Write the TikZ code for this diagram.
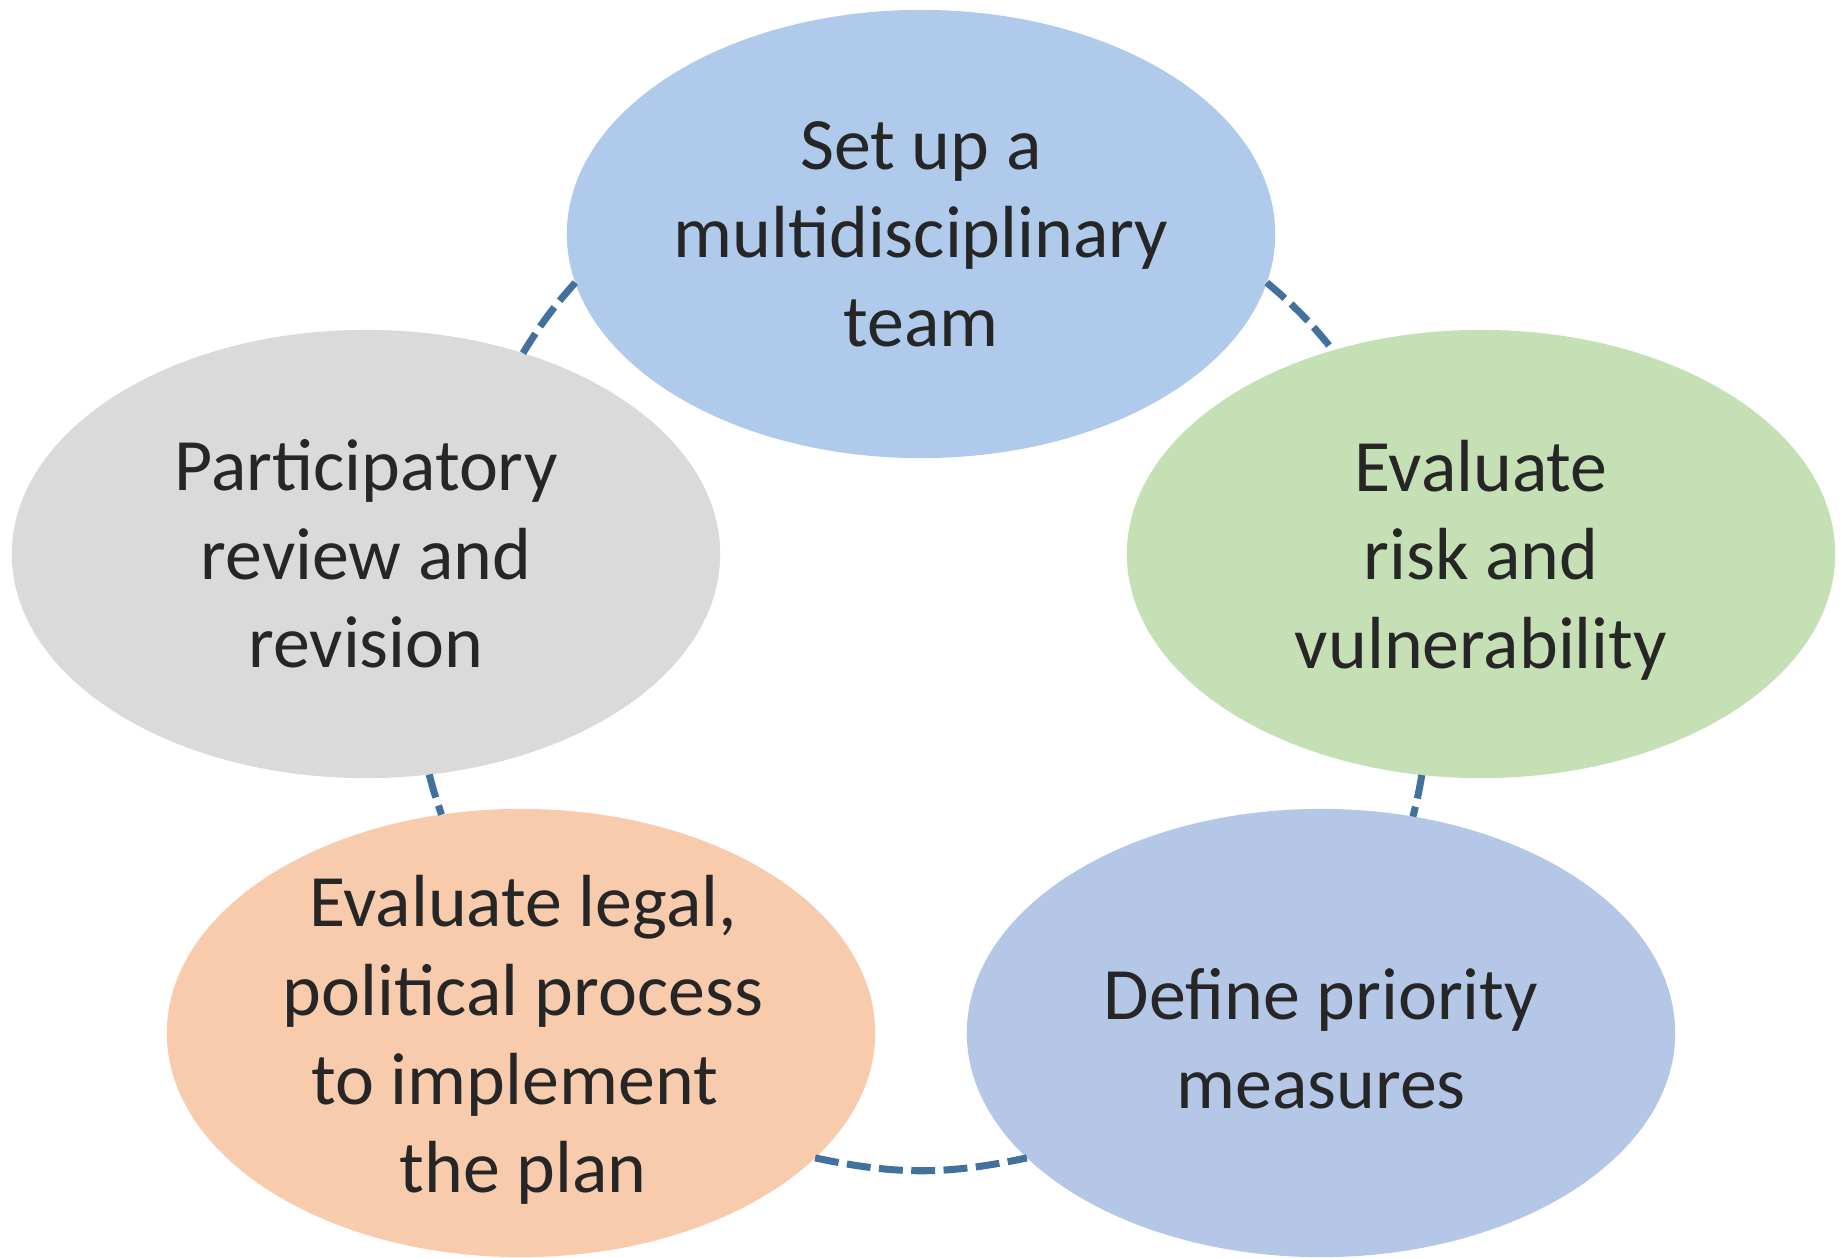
\documentclass[tikz,border=0pt]{standalone}
\usepackage{fontspec}
\setmainfont{Carlito}
\usetikzlibrary{shapes.geometric}
\definecolor{stepblue}{HTML}{AFCAEB}
\definecolor{stepgreen}{HTML}{C5E0B4}
\definecolor{steporange}{HTML}{F8CBAD}
\definecolor{stepgray}{HTML}{DADADA}
\definecolor{stepslate}{HTML}{B4C7E7}
\definecolor{cyclelink}{HTML}{41719C}
\definecolor{steptext}{HTML}{262626}

\begin{document}
\begin{tikzpicture}[
  x=0.01cm,y=-0.01cm,
  blob/.style={ellipse,draw=none,inner sep=0pt,outer sep=0pt,minimum width=7.08cm,minimum height=4.48cm},
  txt/.style={align=center,text=steptext,inner sep=0pt,font=\fontsize{21}{25.2}\selectfont},
  link/.style={draw=cyclelink,line width=2pt,dash pattern=on 6.8pt off 2.4pt}]
\useasboundingbox (0,0) rectangle (1843,1257);
\node[blob,fill=stepblue] (team) at (921,234) {};
\node[blob,fill=stepgreen] (risk) at (1481,554) {};
\node[blob,fill=stepslate] (prio) at (1321,1033) {};
\node[blob,fill=steporange] (legal) at (521,1033) {};
\node[blob,fill=stepgray] (review) at (366,554) {};
\node[txt] (team-t) at (921,234) {Set up a\\multidisciplinary\\team};
\node[txt] (risk-t) at (1481,560) {Evaluate\\risk and\\vulnerability};
\node[txt] (prio-t) at (1321,1039) {Define priority\\measures};
\node[txt] (legal-t) at (523,1040) {Evaluate legal,\\political process\\to implement\hphantom{\ }\\the plan};
\node[txt] (review-t) at (366,554) {Participatory\\review and\\revision};
\draw[link] (team.352.5) to[bend left=5.5] (risk.126.2);
\draw[link] (risk.255.5) to[bend left=2.5] (prio.67.1);
\draw[link] (legal.337.1) to[bend right=12] (prio.203.4);
\draw[link] (review.286.3) to[bend right=2.4] (legal.110.1);
\draw[link] (team.188.8) to[bend right=5] (review.52.6);
\end{tikzpicture}
\end{document}
